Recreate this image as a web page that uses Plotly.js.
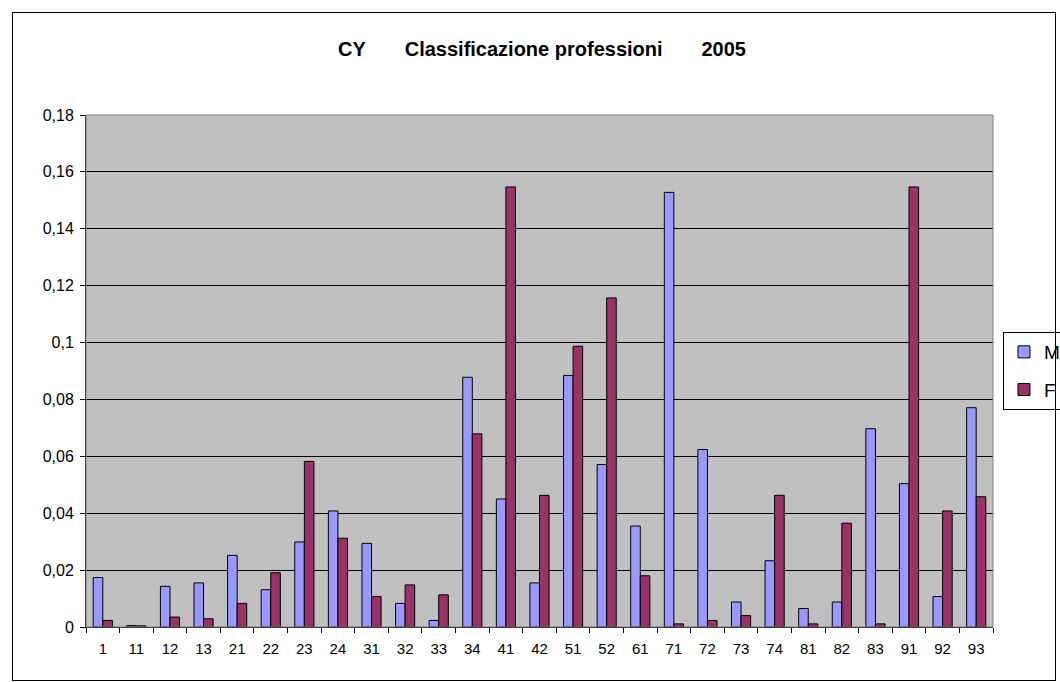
<!DOCTYPE html>
<html>
<head>
<meta charset="utf-8">
<script src="https://cdn.plot.ly/plotly-3.0.1.min.js"></script>
<style>
body { margin: 0; background: #fff; }
#myChart { position: absolute; left: 0; top: 0; width: 1060px; height: 682px; }
#frame { position: absolute; left: 12px; top: 12px; width: 1042px; height: 667px; border: 1px solid #000; pointer-events: none; }
</style>
</head>
<body>
<div id="myChart"></div>
<div id="frame"></div>
<script>
var categories = ['1', '11', '12', '13', '21', '22', '23', '24', '31', '32', '33', '34', '41',
  '42', '51', '52', '61', '71', '72', '73', '74', '81', '82', '83', '91', '92', '93'];

var m_values = [0.0174, 0.0005, 0.0143, 0.0155, 0.0252, 0.0131, 0.0299, 0.0408, 0.0294, 0.0083, 0.0023, 0.0878, 0.0450,
  0.0155, 0.0884, 0.0571, 0.0355, 0.1528, 0.0624, 0.0088, 0.0233, 0.0065, 0.0088, 0.0697, 0.0504, 0.0107, 0.0771];

var f_values = [0.0023, 0.0004, 0.0035, 0.0029, 0.0083, 0.0191, 0.0582, 0.0312, 0.0107, 0.0148, 0.0113, 0.0679, 0.1547,
  0.0463, 0.0987, 0.1157, 0.0180, 0.0011, 0.0023, 0.0040, 0.0463, 0.0011, 0.0365, 0.0011, 0.1547, 0.0408, 0.0458];

var sp = '\u00a0\u00a0\u00a0\u00a0\u00a0\u00a0\u00a0';

var trace1 = {
  x: categories,
  y: m_values,
  type: 'bar',
  name: 'M',
  legendgroup: 'm',
  marker: { color: '#9999FF', line: { color: '#000000', width: 1 } }
};

var trace2 = {
  x: categories,
  y: f_values,
  type: 'bar',
  name: 'F',
  legendgroup: 'f',
  marker: { color: '#993366', line: { color: '#000000', width: 1 } }
};

var layout = {
  width: 1060,
  height: 682,
  margin: { l: 86, r: 67, t: 115, b: 55, autoexpand: false },
  paper_bgcolor: '#ffffff',
  plot_bgcolor: '#C0C0C0',
  separators: ',.',
  font: { family: 'Liberation Sans, Arial, sans-serif', color: '#000' },
  title: {
    text: '<b>CY' + sp + 'Classificazione professioni' + sp + '2005</b>',
    font: { size: 20 },
    x: 542 / 1060, xanchor: 'center',
    y: 1 - 49 / 682, yanchor: 'middle'
  },
  barmode: 'group',
  bargap: 0.43,
  bargroupgap: 0,
  xaxis: {
    type: 'category',
    tickson: 'boundaries',
    ticks: 'outside',
    ticklen: 5,
    tickcolor: '#000',
    showline: true,
    linecolor: '#000',
    linewidth: 1,
    showgrid: false,
    ticklabelstandoff: 8,
    tickfont: { size: 15 }
  },
  yaxis: {
    range: [0, 0.18],
    dtick: 0.02,
    ticks: 'outside',
    ticklen: 5,
    tickcolor: '#000',
    showline: true,
    linecolor: '#000',
    linewidth: 1,
    showgrid: true,
    gridcolor: '#000',
    gridwidth: 1,
    zeroline: false,
    ticklabelstandoff: 3,
    tickfont: { size: 16 }
  },
  shapes: [{
    type: 'rect', xref: 'paper', yref: 'paper',
    x0: 0, x1: 1, y0: 0, y1: 1,
    line: { color: '#808080', width: 1 }
  }],
  legend: {
    x: 1.011, xanchor: 'left',
    y: 0.5, yanchor: 'middle',
    bgcolor: '#ffffff',
    bordercolor: '#000',
    borderwidth: 1,
    font: { size: 19 },
    traceorder: 'grouped',
    tracegroupgap: 10
  },
  showlegend: true
};

Plotly.newPlot('myChart', [trace1, trace2], layout, { displayModeBar: false });
</script>
</body>
</html>
